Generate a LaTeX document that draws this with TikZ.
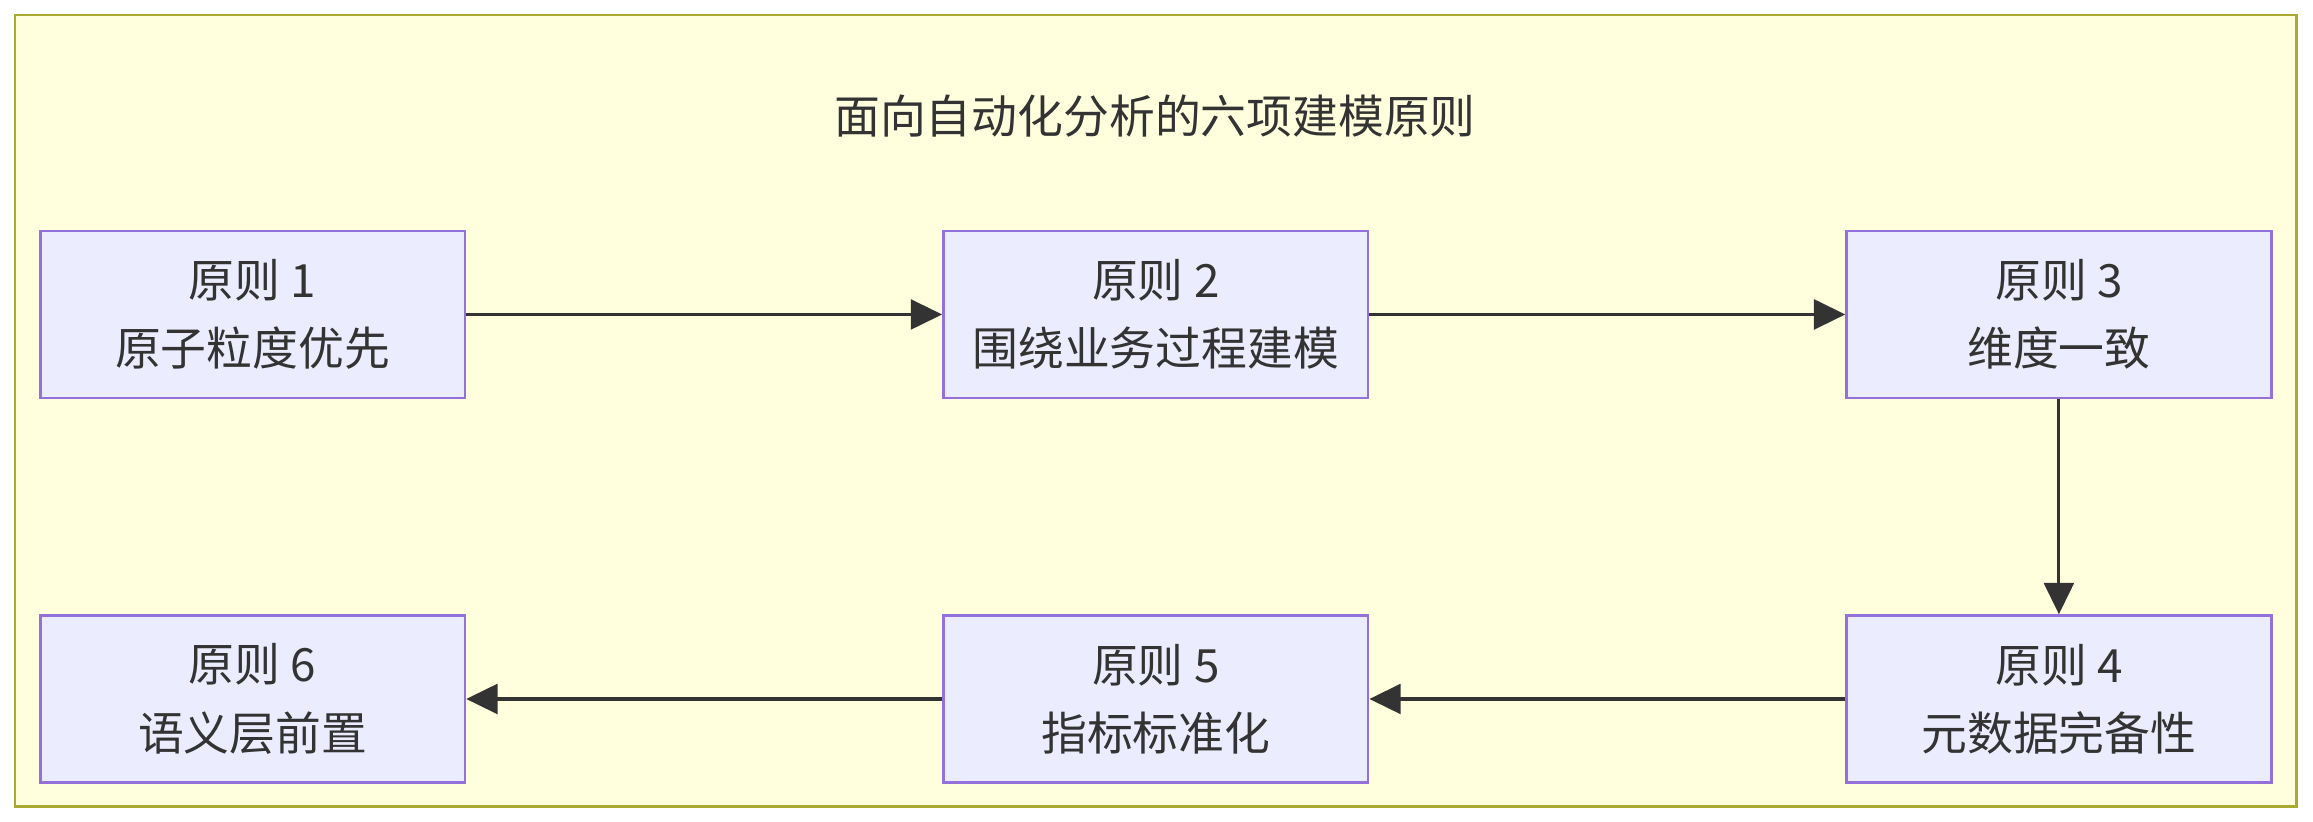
\documentclass[tikz,border=0pt]{standalone}
\usepackage{fontspec}
\setmainfont{Noto Sans CJK SC}
\usetikzlibrary{positioning,arrows.meta}
\definecolor{bgyellow}{HTML}{FFFFDE}
\definecolor{frameline}{HTML}{AAAA33}
\definecolor{boxfill}{HTML}{ECECFF}
\definecolor{boxline}{HTML}{9370DB}
\definecolor{ink}{HTML}{333333}
\begin{document}
\begin{tikzpicture}[x=0.02cm,y=-0.02cm,font=\fontsize{17.5}{26}\selectfont,text=ink,
  principle/.style={rectangle,draw=boxline,fill=boxfill,line width=1pt,minimum width=5.7cm,minimum height=2.24cm,align=center,inner sep=0pt},
  flow/.style={draw=ink,line width=1.2pt,-{Triangle[length=0.42cm,width=0.4cm]}}]
      %frame
      \useasboundingbox (0,0) rectangle (1552,551);
      \draw[frameline,fill=bgyellow,line width=1pt] (10,10) rectangle (1541,541);
      \node (title) at (775,78) {面向自动化分析的六项建模原则};

      %boxes
      \node[principle] (p1) at (169.5,211) {原则 1\\原子粒度优先};
      \node[principle] (p2) at (775.5,211) {原则 2\\围绕业务过程建模};
      \node[principle] (p3) at (1381.5,211) {原则 3\\维度一致};
      \node[principle] (p4) at (1381.5,469) {原则 4\\元数据完备性};
      \node[principle] (p5) at (775.5,469) {原则 5\\指标标准化};
      \node[principle] (p6) at (169.5,469) {原则 6\\语义层前置};

      %arrows
      \draw[flow] (p1) -- (p2);
      \draw[flow] (p2) -- (p3);
      \draw[flow] (p3) -- (p4);
      \draw[flow] (p4) -- (p5);
      \draw[flow] (p5) -- (p6);
\end{tikzpicture}
\end{document}
